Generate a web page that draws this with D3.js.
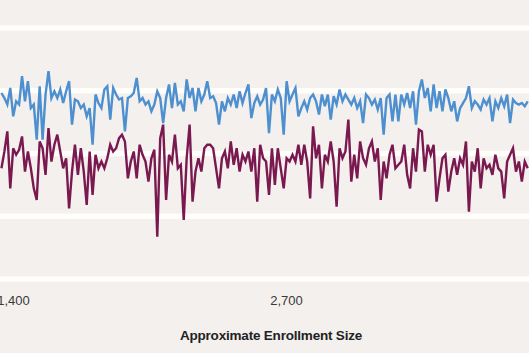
<!DOCTYPE html>
<html>
<head>
<meta charset="utf-8">
<script src="https://cdn.jsdelivr.net/npm/d3@7"></script>
<style>
    body { margin: 0; background: #f3f0ed; }
    svg { display: block; }
    .tick text { font-family: 'Liberation Sans', Arial, sans-serif; font-size: 13px; fill: #3a3a3a; }
    .axisTitle { font-family: 'Liberation Sans', Arial, sans-serif; font-size: 13.5px; font-weight: bold; fill: #222; letter-spacing: -0.2px; }
</style>
</head>
<body>
<svg id="chart"></svg>
<script>
// approximate enrollment size (x)
const enrollmentSizes = [
    1345, 1359, 1373, 1387, 1401, 1415, 1429, 1443, 1457, 1471,
    1485, 1499, 1513, 1527, 1541, 1555, 1569, 1583, 1597, 1611,
    1625, 1639, 1653, 1667, 1681, 1695, 1709, 1723, 1737, 1751,
    1765, 1779, 1793, 1807, 1821, 1835, 1849, 1863, 1877, 1891,
    1905, 1919, 1933, 1947, 1961, 1975, 1989, 2003, 2017, 2031,
    2045, 2059, 2073, 2087, 2101, 2115, 2129, 2143, 2157, 2171,
    2185, 2199, 2213, 2227, 2241, 2255, 2269, 2283, 2297, 2311,
    2325, 2339, 2353, 2367, 2381, 2395, 2409, 2423, 2437, 2451,
    2465, 2479, 2493, 2507, 2521, 2535, 2549, 2563, 2577, 2591,
    2605, 2619, 2633, 2647, 2661, 2675, 2689, 2703, 2717, 2731,
    2745, 2759, 2773, 2787, 2801, 2815, 2829, 2843, 2857, 2871,
    2885, 2899, 2913, 2927, 2941, 2955, 2969, 2983, 2997, 3011,
    3025, 3039, 3053, 3067, 3081, 3095, 3109, 3123, 3137, 3151,
    3165, 3179, 3193, 3207, 3221, 3235, 3249, 3263, 3277, 3291,
    3305, 3319, 3333, 3347, 3361, 3375, 3389, 3403, 3417, 3431,
    3445, 3459, 3473, 3487, 3501, 3515, 3529, 3543, 3557, 3571,
    3585, 3599, 3613, 3627, 3641, 3655, 3669, 3683, 3697, 3711,
    3725, 3739, 3753, 3767, 3781, 3795, 3809, 3823, 3837, 3851
];

// upper (blue) series
const blueValues = [
    74.1, 72.1, 69.5, 76.1, 64.8, 70.8, 69.5, 80.8, 70.8, 78.8,
    68.1, 69.5, 55.5, 76.8, 55.5, 73.5, 82.8, 72.1, 74.8, 72.1,
    75.5, 70.1, 74.8, 78.8, 61.5, 71.5, 70.8, 68.1, 69.5, 64.8,
    68.1, 53.5, 73.5, 70.1, 68.1, 75.5, 76.8, 63.5, 76.1, 73.5,
    71.5, 72.1, 58.8, 72.1, 72.8,
    74.1, 80.1, 70.8, 72.1, 69.5, 70.8, 66.8, 69.5, 74.8, 72.1,
    62.1, 72.1, 77.5, 68.1, 78.1, 69.5, 70.8, 66.8, 79.5, 72.1,
    76.1, 66.8, 76.1, 70.8, 73.5, 78.8, 72.1, 72.8, 70.1, 61.5,
    70.8, 66.8, 72.1, 69.5, 73.5, 68.1, 74.8, 70.1, 74.1, 77.5,
    64.1, 70.1, 72.8, 69.5, 71.5,
    76.1, 58.1, 73.5, 70.8, 75.5, 72.1, 57.5, 78.8, 70.8, 73.5,
    76.1, 64.8, 68.1, 70.8, 67.5, 72.1, 73.5, 70.8, 65.5, 73.5,
    68.8, 73.5, 63.5, 72.8, 69.5, 75.5, 70.8, 73.5, 71.5, 69.5,
    72.1, 68.1, 70.8, 62.1, 73.5, 72.1, 69.5, 71.5, 67.5, 72.1,
    57.5, 72.1, 73.5, 62.8, 73.5,
    62.8, 73.5, 69.5, 74.1, 68.1, 74.8, 61.5, 74.8, 79.5, 72.1,
    76.1, 66.8, 77.5, 68.1, 74.8, 66.8, 75.5, 72.1, 66.8, 70.8,
    62.8, 68.1, 70.1, 72.1, 76.8, 68.1, 70.8, 69.5, 67.5, 71.5,
    69.5, 72.1, 62.8, 70.8, 68.1, 72.1, 68.8, 73.5, 62.1, 71.5,
    70.1, 69.5, 70.1, 68.8, 70.8
];

// lower (maroon) series
const maroonValues = [
    44.1, 50.8, 58.8, 36.1, 52.1, 49.5, 51.5, 56.8, 42.8, 50.8,
    44.1, 36.1, 31.5, 54.8, 52.1, 41.5, 60.1, 46.8, 53.5, 57.5,
    50.8, 44.1, 48.1, 28.1, 42.8, 53.5, 41.5, 52.1, 42.8, 29.5,
    50.8, 33.5, 49.5, 44.1, 46.8, 44.1, 48.1, 53.5, 50.8, 52.1,
    56.1, 57.5, 54.8, 40.1, 46.8,
    50.8, 40.1, 53.5, 49.5, 46.8, 38.8, 48.1, 51.5, 16.8, 56.1,
    61.5, 31.5, 49.5, 46.8, 57.5, 44.1, 45.5, 23.5, 48.1, 61.5,
    30.8, 42.8, 48.1, 42.8, 52.1, 53.5, 53.5, 52.1, 44.1, 36.1,
    48.1, 50.8, 44.1, 54.8, 45.5, 52.1, 42.8, 49.5, 46.8, 50.8,
    42.8, 52.1, 30.8, 53.5, 48.1,
    46.8, 33.5, 52.1, 37.5, 52.1, 44.1, 36.1, 48.1, 46.8, 49.5,
    46.8, 53.5, 45.5, 53.5, 46.8, 32.1, 60.8, 48.1, 53.5, 36.1,
    49.5, 46.8, 54.8, 46.8, 28.8, 52.1, 48.1, 50.8, 63.5, 38.8,
    49.5, 40.1, 54.8, 48.1, 45.5, 52.1, 54.8, 46.8, 52.1, 31.5,
    46.8, 40.1, 49.5, 53.5, 44.1,
    45.5, 46.8, 53.5, 41.5, 36.1, 52.1, 42.8, 59.5, 58.8, 42.8,
    53.5, 49.5, 53.5, 30.8, 40.1, 48.1, 49.5, 34.8, 42.8, 48.1,
    41.5, 48.1, 45.5, 54.8, 26.8, 46.8, 42.8, 52.1, 36.1, 48.1,
    44.1, 45.5, 41.5, 49.5, 44.1, 42.8, 32.1, 46.8, 49.5, 52.1,
    42.8, 46.8, 38.8, 46.8, 44.1
];

const xTickValues = [1400, 2700];
const yGridValues = [0, 25, 50, 75, 100];

class EnrollmentLineChart {
    constructor(_config) {
        this.config = {
            parentElement: _config.parentElement,
            containerWidth: _config.containerWidth || 529,
            containerHeight: _config.containerHeight || 353
        }
        this.initVis();
    }

    initVis() {
        let vis = this;

        vis.svg = d3.select(vis.config.parentElement)
            .attr('width', vis.config.containerWidth)
            .attr('height', vis.config.containerHeight);

        vis.svg.append('rect')
            .attr('width', vis.config.containerWidth)
            .attr('height', vis.config.containerHeight)
            .attr('fill', '#f3f0ed');

        // the chart is cropped, so the scales run past the visible edges
        vis.xScale = d3.scaleLinear()
            .domain([1400, 2700])
            .range([13, 286]);

        vis.yScale = d3.scaleLinear()
            .domain([0, 100])
            .range([279, 28]);

        vis.gridG = vis.svg.append('g').attr('class', 'grid');
        vis.linesG = vis.svg.append('g').attr('class', 'lines');

        vis.xAxis = d3.axisBottom(vis.xScale)
            .tickValues(xTickValues)
            .tickSize(0)
            .tickPadding(0)
            .tickFormat(d3.format(','));

        vis.xAxisG = vis.svg.append('g')
            .attr('class', 'axis x-axis')
            .attr('transform', 'translate(0,296)');

        vis.svg.append('text')
            .attr('class', 'axisTitle')
            .attr('x', 271)
            .attr('y', 340)
            .attr('text-anchor', 'middle')
            .text('Approximate Enrollment Size');

        vis.updateVis();
    }

    updateVis() {
        let vis = this;

        vis.blueData = enrollmentSizes.map((s, i) => ({ size: s, value: blueValues[i] }));
        vis.maroonData = enrollmentSizes.map((s, i) => ({ size: s, value: maroonValues[i] }));

        vis.line = d3.line()
            .x(d => vis.xScale(d.size))
            .y(d => vis.yScale(d.value));

        vis.renderVis();
    }

    renderVis() {
        let vis = this;

        vis.gridG.selectAll('line')
            .data(yGridValues)
            .join('line')
            .attr('x1', 0)
            .attr('x2', vis.config.containerWidth)
            .attr('y1', d => vis.yScale(d))
            .attr('y2', d => vis.yScale(d))
            .attr('stroke', '#fffefb')
            .attr('stroke-width', 5.5);

        vis.linesG.selectAll('path')
            .data([
                { data: vis.blueData, color: '#4d8fcf' },
                { data: vis.maroonData, color: '#7a1850' }
            ])
            .join('path')
            .attr('fill', 'none')
            .attr('stroke', d => d.color)
            .attr('stroke-width', 2.4)
            .attr('stroke-linejoin', 'miter')
            .attr('d', d => vis.line(d.data));

        vis.xAxisG.call(vis.xAxis);
        vis.xAxisG.select('.domain').remove();
        vis.xAxisG.selectAll('text').attr('dy', '0.71em');
    }
}

new EnrollmentLineChart({ parentElement: '#chart' });
</script>
</body>
</html>
